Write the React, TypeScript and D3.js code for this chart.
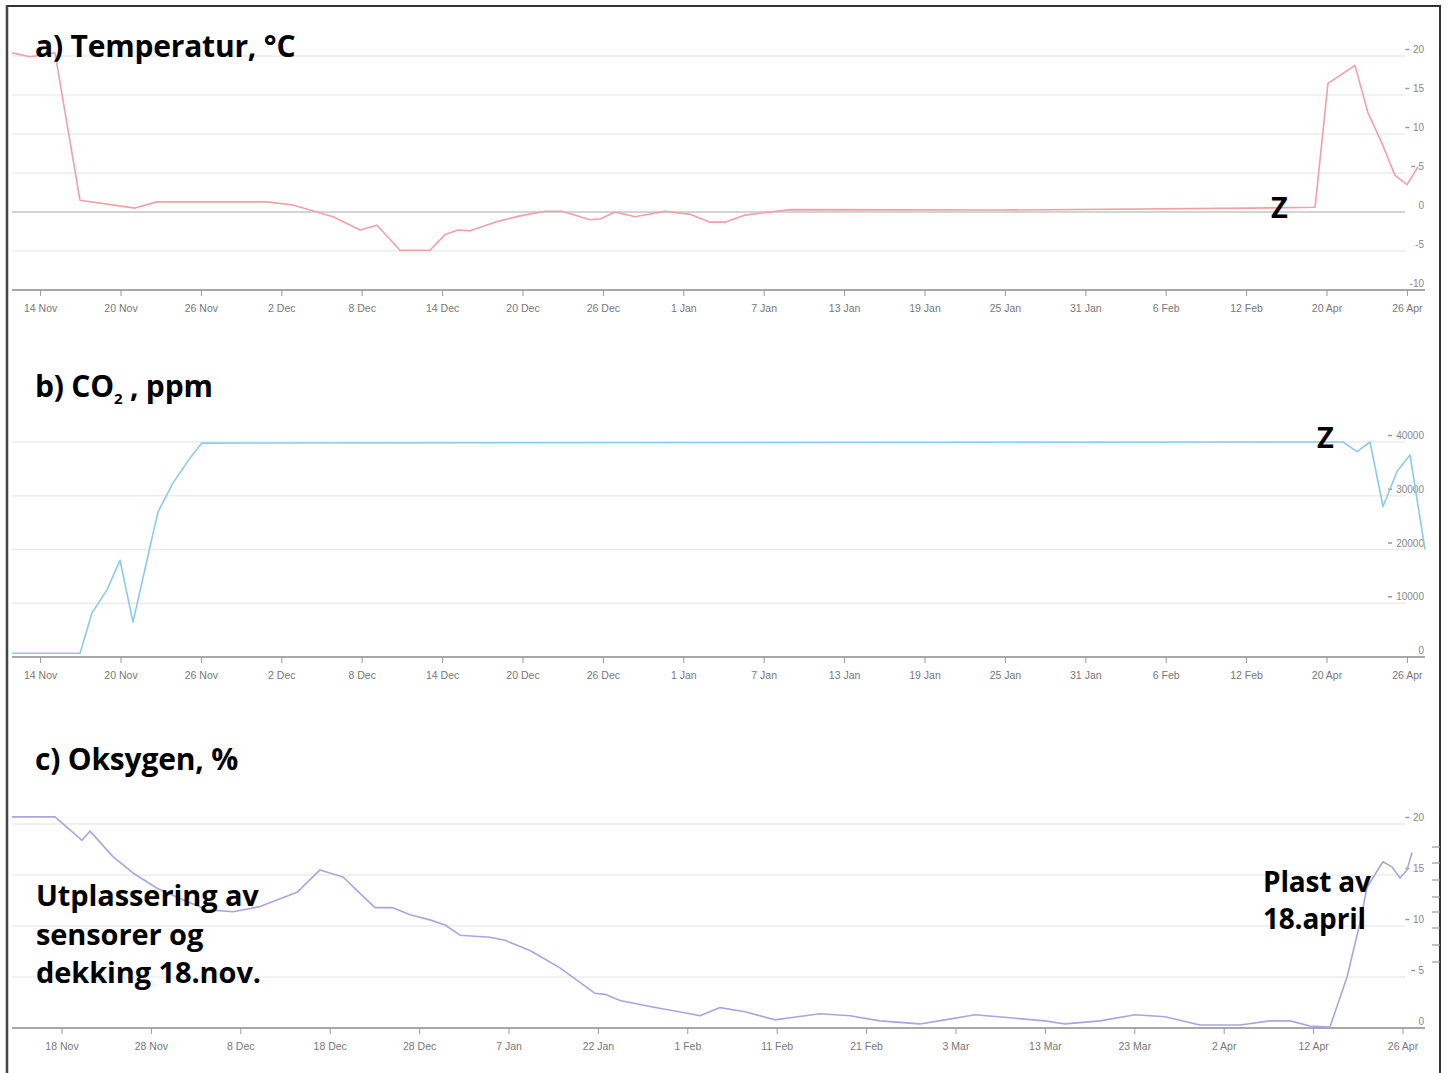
import React from "react";
import * as d3 from "d3";

// ---------- data ----------
// Panels a & b: x positions in tick units (tick i = i-th label)
const abTicks = ["14 Nov","20 Nov","26 Nov","2 Dec","8 Dec","14 Dec","20 Dec","26 Dec","1 Jan","7 Jan","13 Jan","19 Jan","25 Jan","31 Jan","6 Feb","12 Feb","20 Apr","26 Apr"];
const cTicks = ["18 Nov","28 Nov","8 Dec","18 Dec","28 Dec","7 Jan","22 Jan","1 Feb","11 Feb","21 Feb","3 Mar","13 Mar","23 Mar","2 Apr","12 Apr","26 Apr"];

const tempPos = [-0.356,-0.132,0.179,0.49,1.174,1.448,2.816,3.139,3.637,3.973,4.184,4.47,4.843,5.03,5.192,5.341,5.652,5.963,6.274,6.485,6.833,6.958,7.144,7.393,7.766,8.077,8.326,8.512,8.761,9.072,9.321,11.933,15.042,15.851,16.012,16.348,16.51,16.684,16.846,16.995,17.132];
const tempVal = [20.4,19.9,20.4,1.5,0.5,1.3,1.3,0.9,-0.6,-2.3,-1.7,-4.9,-4.9,-2.9,-2.3,-2.4,-1.3,-0.5,0.1,0.1,-1.0,-0.9,0,-0.6,0.1,-0.3,-1.3,-1.3,-0.4,0,0.3,0.25,0.5,0.6,16.5,18.8,12.7,8.8,4.7,3.5,5.8];

const co2Pos = [-0.356,0.49,0.639,0.826,0.988,1.149,1.323,1.46,1.647,1.858,2.007,16.199,16.373,16.535,16.697,16.871,17.032,17.219];
const co2Val = [700,700,8200,12500,18000,6500,18000,27000,32400,37000,39800,40000,38200,40000,28000,34500,37600,20000];

const oxyPos = [-0.559,-0.078,0.224,0.313,0.57,0.794,1.063,1.398,1.622,1.913,2.215,2.629,2.886,3.143,3.333,3.501,3.702,3.893,4.116,4.284,4.452,4.787,4.955,5.235,5.57,5.962,6.074,6.242,6.577,7.025,7.136,7.36,7.64,7.975,8.143,8.479,8.814,9.15,9.597,9.877,10.213,10.604,10.996,11.219,11.611,12.002,12.338,12.729,13.177,13.512,13.736,13.96,14.183,14.374,14.519,14.597,14.776,14.877,14.966,15.045,15.101];
const oxyVal = [20.7,20.7,18.4,19.3,16.8,15.2,13.7,12.4,11.6,11.4,11.9,13.3,15.5,14.8,13.2,11.8,11.8,11.1,10.6,10.1,9.1,8.9,8.6,7.6,5.9,3.4,3.3,2.7,2.1,1.4,1.2,2.0,1.6,0.8,1.0,1.4,1.2,0.7,0.4,0.8,1.3,1.0,0.7,0.4,0.7,1.3,1.1,0.3,0.3,0.7,0.7,0.2,0.1,5.0,10.3,13.8,16.3,15.8,14.7,15.5,17.2];

const tempYTicks = [20, 15, 10, 5, 0, -5, -10];
const co2YTicks = [40000, 30000, 20000, 10000, 0];
const oxyYTicks = [20, 15, 10, 5, 0];

const W = 1448, H = 1073;
const TITLE_FONT = "'Open Sans', Lato, sans-serif";
const SMALL_FONT = "'Liberation Sans', Arial, sans-serif";

type PanelProps = {
  ticks: string[];
  xDomain: [number, number];
  xRange: [number, number];
  yDomain: [number, number];
  yRange: [number, number];
  yTicks: number[];
  pos: number[];
  val: number[];
  color: string;
  zeroLine?: boolean;
};

function Panel(p: PanelProps) {
  const x = d3.scaleLinear().domain(p.xDomain).range(p.xRange);
  const y = d3.scaleLinear().domain(p.yDomain).range(p.yRange);
  const pts: [number, number][] = p.pos.map((d, i) => [d, p.val[i]]);
  const line = d3.line<[number, number]>().x(d => x(d[0])).y(d => y(d[1]));
  const left = 12, right = 1425;
  const axisY = y(p.yDomain[0]);
  return (
    <g>
      {p.yTicks.filter(t => t !== p.yDomain[0]).map(t => (
        <line key={"g" + t} x1={left} x2={1405} y1={y(t)} y2={y(t)}
          stroke={p.zeroLine && t === 0 ? "#d4d4d4" : "#ececec"}
          strokeWidth={p.zeroLine && t === 0 ? 2 : 1.5} />
      ))}
      <line x1={left} x2={right} y1={axisY} y2={axisY} stroke="#a8a8a8" strokeWidth={2} />
      {p.ticks.map((t, i) => (
        <g key={t} transform={`translate(${x(i)},${axisY})`}>
          <line y1={0} y2={6} stroke="#999" strokeWidth={1} />
          <text y={22} textAnchor="middle" fontFamily={SMALL_FONT} fontSize={10.5} fill="#777">{t}</text>
        </g>
      ))}
      {p.yTicks.map(t => {
        const label = String(t);
        const tx = 1424;
        const markX = tx - label.length * 5.8 - 7;
        return (
          <g key={"y" + t}>
            {t > 0 && <line x1={markX} x2={markX + 4} y1={y(t) - 6.5} y2={y(t) - 6.5} stroke="#999" strokeWidth={1.5} />}
            <text x={tx} y={y(t) - 3} textAnchor="end" fontFamily={SMALL_FONT} fontSize={10} fill="#888">{label}</text>
          </g>
        );
      })}
      <path d={line(pts) || ""} fill="none" stroke={p.color} strokeWidth={1.6} strokeLinejoin="round" />
    </g>
  );
}

export default function App() {
  const boldText = { fontFamily: TITLE_FONT, fontWeight: 700 as const, fill: "#000" };
  const rightDashes = [847, 863, 880, 897, 912, 928, 945, 962];
  return (
    <svg width={W} height={H} style={{ position: "absolute", left: 0, top: 0, background: "#fff" }}>
      <rect x={0} y={0} width={W} height={H} fill="#fff" />
      {/* frame */}
      <line x1={7} x2={1440} y1={6} y2={6} stroke="#333" strokeWidth={2} />
      <line x1={7} x2={7} y1={5} y2={H} stroke="#444" strokeWidth={2.5} />
      <line x1={1440} x2={1440} y1={5} y2={H} stroke="#333" strokeWidth={2} />

      <Panel ticks={abTicks} xDomain={[0, 1]} xRange={[40.6, 121]} yDomain={[-10, 20]} yRange={[290, 56]}
        yTicks={tempYTicks} pos={tempPos} val={tempVal} color="#f2a0a6" zeroLine />
      <Panel ticks={abTicks} xDomain={[0, 1]} xRange={[40.6, 121]} yDomain={[0, 40000]} yRange={[657, 442]}
        yTicks={co2YTicks} pos={co2Pos} val={co2Val} color="#8ccaec" />
      <Panel ticks={cTicks} xDomain={[0, 1]} xRange={[62, 151.4]} yDomain={[0, 20]} yRange={[1028, 824]}
        yTicks={oxyYTicks} pos={oxyPos} val={oxyVal} color="#a8a6dc" />

      {rightDashes.map(yy => (
        <line key={yy} x1={1432} x2={1440} y1={yy} y2={yy} stroke="#999" strokeWidth={1.2} />
      ))}

      {/* titles */}
      <text x={35} y={57} fontSize={30} letterSpacing={-0.2} {...boldText}>a) Temperatur, °C</text>
      <text x={35} y={397} fontSize={30} letterSpacing={-0.2} {...boldText}>
        b) CO<tspan fontSize={15} dy={7}>2</tspan><tspan dy={-7}> , ppm</tspan>
      </text>
      <text x={35} y={770} fontSize={30} letterSpacing={-0.2} {...boldText}>c) Oksygen, %</text>

      <text x={1271} y={218} fontSize={29} {...boldText}>Z</text>
      <text x={1317} y={448} fontSize={29} {...boldText}>Z</text>

      <text fontSize={29} letterSpacing={-0.1} {...boldText}>
        <tspan x={36} y={906}>Utplassering av</tspan>
        <tspan x={36} y={945}>sensorer og</tspan>
        <tspan x={36} y={983}>dekking 18.nov.</tspan>
      </text>
      <text fontSize={28} letterSpacing={-0.2} {...boldText}>
        <tspan x={1263} y={892}>Plast av</tspan>
        <tspan x={1263} y={929}>18.april</tspan>
      </text>
    </svg>
  );
}
